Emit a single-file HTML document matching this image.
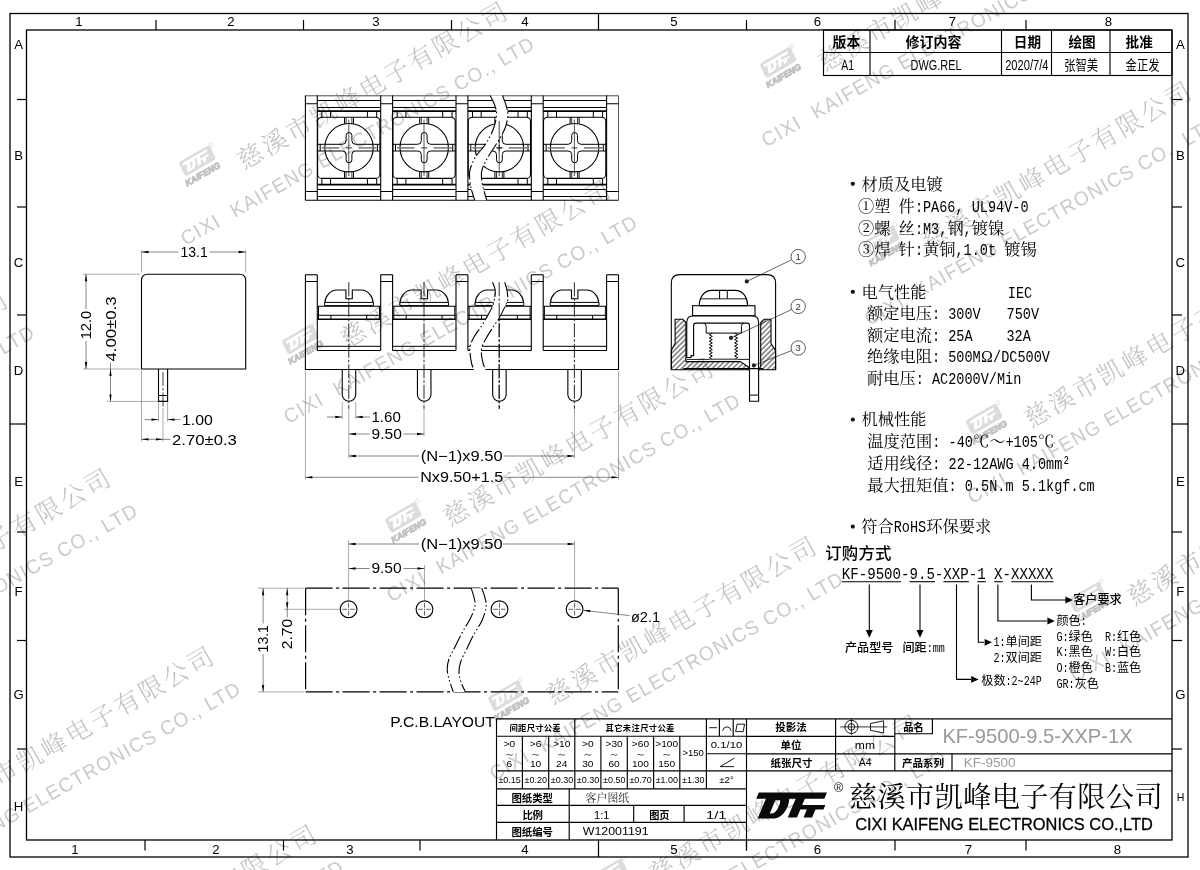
<!DOCTYPE html>
<html lang="zh"><head><meta charset="utf-8"><title>KF-9500-9.5-XXP-1X</title>
<style>
html,body{margin:0;padding:0;background:#fff}
body{width:1200px;height:870px;overflow:hidden;font-family:"Liberation Sans",sans-serif}
svg{display:block;will-change:transform}
svg{font-family:"Liberation Sans",sans-serif}
svg text{white-space:pre}
svg .cs{font-family:"Liberation Sans","Noto Sans CJK SC",sans-serif}
svg .cf{font-family:"Liberation Serif","Noto Serif CJK SC",serif}
</style></head>
<body>
<svg width="1200" height="870" viewBox="0 0 1200 870">
<defs>
<pattern id="hat" width="3.6" height="3.6" patternUnits="userSpaceOnUse" patternTransform="rotate(45)"><line x1="1" y1="-1" x2="1" y2="5" stroke="#000" stroke-width="0.8"/></pattern>
<g id="wmu"><rect x="-17.6" y="-11.6" width="35.6" height="15.8" rx="3" fill="#dcdcdc" transform="skewX(-4)"/><path d="M-13.20,-9.00 L14.08,-9.00 L13.02,-6.48 L-14.26,-6.48 Z M-10.38,-6.48 L-1.18,-6.48 C-0.79,-5.40 -1.87,-1.60 -4.20,0.24 Q-5.20,1.20 -6.89,1.40 L-13.69,1.40 Z M-6.57,-5.92 L-4.73,-5.92 C-4.16,-5.20 -5.99,-0.64 -7.83,-0.64 L-8.79,-0.64 Z M1.54,-6.48 L5.22,-6.48 L2.08,1.00 L-1.60,1.00 Z M4.18,-4.00 L13.42,-4.00 L12.66,-2.20 L3.42,-2.20 Z M6.02,-2.20 L9.46,-2.20 L8.12,1.00 L4.68,1.00 Z" fill="#fff" fill-rule="evenodd"/><text x="-21.20" y="13.60" font-size="8.8" textLength="39.00" lengthAdjust="spacingAndGlyphs" font-weight="bold" fill="#c0c0c0" font-style="italic" stroke="#c0c0c0" stroke-width="0.85">KAIFENG</text><circle cx="20.50" cy="-10.80" r="1.90" fill="none" stroke="#d6d6d6" stroke-width="0.70"/><text x="36.00" y="27.90" font-size="25.2" letter-spacing="2.95" fill="#c2c2c2" font-weight="300" font-family="'Liberation Serif','Noto Serif CJK SC',serif">慈溪市凯峰电子有限公司</text><text transform="translate(-52.4 64.2) rotate(0.55) scale(0.95 1)" font-size="20" letter-spacing="1.45" fill="#cacaca">CIXI <tspan dx="8.3">KAIFENG ELECTRONICS CO., LTD</tspan></text></g>
</defs>
<g id="watermark">
<use href="#wmu" transform="translate(-301.05 452.50) rotate(-30)"/>
<use href="#wmu" transform="translate(-198.05 630.80) rotate(-30)"/>
<use href="#wmu" transform="translate(-95.05 809.10) rotate(-30)"/>
<use href="#wmu" transform="translate(7.95 987.40) rotate(-30)"/>
<use href="#wmu" transform="translate(198.75 164.20) rotate(-30)"/>
<use href="#wmu" transform="translate(301.75 342.50) rotate(-30)"/>
<use href="#wmu" transform="translate(404.75 520.80) rotate(-30)"/>
<use href="#wmu" transform="translate(507.75 699.10) rotate(-30)"/>
<use href="#wmu" transform="translate(610.75 877.40) rotate(-30)"/>
<use href="#wmu" transform="translate(676.60 -112.50) rotate(-30)"/>
<use href="#wmu" transform="translate(779.60 65.80) rotate(-30)"/>
<use href="#wmu" transform="translate(882.60 244.10) rotate(-30)"/>
<use href="#wmu" transform="translate(985.60 422.40) rotate(-30)"/>
<use href="#wmu" transform="translate(1088.60 600.70) rotate(-30)"/>
</g>
<g id="drawing">
<rect x="10.00" y="13.50" width="1178.00" height="843.50" fill="none" stroke="#000" stroke-width="1.30"/>
<rect x="26.50" y="30.00" width="1145.50" height="810.00" fill="none" stroke="#000" stroke-width="1.30"/>
<line x1="156.00" y1="20.00" x2="156.00" y2="30.00" stroke="#000" stroke-width="1.20"/>
<line x1="303.50" y1="20.00" x2="303.50" y2="30.00" stroke="#000" stroke-width="1.20"/>
<line x1="451.50" y1="20.00" x2="451.50" y2="30.00" stroke="#000" stroke-width="1.20"/>
<line x1="746.50" y1="20.00" x2="746.50" y2="30.00" stroke="#000" stroke-width="1.20"/>
<line x1="895.00" y1="20.00" x2="895.00" y2="30.00" stroke="#000" stroke-width="1.20"/>
<line x1="1026.00" y1="20.00" x2="1026.00" y2="30.00" stroke="#000" stroke-width="1.20"/>
<line x1="145.00" y1="840.00" x2="145.00" y2="850.50" stroke="#000" stroke-width="1.20"/>
<line x1="283.50" y1="840.00" x2="283.50" y2="850.50" stroke="#000" stroke-width="1.20"/>
<line x1="420.00" y1="840.00" x2="420.00" y2="850.50" stroke="#000" stroke-width="1.20"/>
<line x1="746.50" y1="840.00" x2="746.50" y2="850.50" stroke="#000" stroke-width="1.20"/>
<line x1="895.00" y1="840.00" x2="895.00" y2="850.50" stroke="#000" stroke-width="1.20"/>
<line x1="1026.00" y1="840.00" x2="1026.00" y2="850.50" stroke="#000" stroke-width="1.20"/>
<line x1="598.50" y1="13.50" x2="598.50" y2="30.00" stroke="#000" stroke-width="1.20"/>
<line x1="598.50" y1="840.00" x2="598.50" y2="857.00" stroke="#000" stroke-width="1.20"/>
<line x1="17.00" y1="99.50" x2="26.50" y2="99.50" stroke="#000" stroke-width="1.20"/>
<line x1="1172.00" y1="99.50" x2="1182.00" y2="99.50" stroke="#000" stroke-width="1.20"/>
<line x1="17.00" y1="207.00" x2="26.50" y2="207.00" stroke="#000" stroke-width="1.20"/>
<line x1="1172.00" y1="207.00" x2="1182.00" y2="207.00" stroke="#000" stroke-width="1.20"/>
<line x1="17.00" y1="315.00" x2="26.50" y2="315.00" stroke="#000" stroke-width="1.20"/>
<line x1="1172.00" y1="315.00" x2="1182.00" y2="315.00" stroke="#000" stroke-width="1.20"/>
<line x1="17.00" y1="532.00" x2="26.50" y2="532.00" stroke="#000" stroke-width="1.20"/>
<line x1="1172.00" y1="532.00" x2="1182.00" y2="532.00" stroke="#000" stroke-width="1.20"/>
<line x1="17.00" y1="640.50" x2="26.50" y2="640.50" stroke="#000" stroke-width="1.20"/>
<line x1="1172.00" y1="640.50" x2="1182.00" y2="640.50" stroke="#000" stroke-width="1.20"/>
<line x1="17.00" y1="749.00" x2="26.50" y2="749.00" stroke="#000" stroke-width="1.20"/>
<line x1="1172.00" y1="749.00" x2="1182.00" y2="749.00" stroke="#000" stroke-width="1.20"/>
<line x1="10.00" y1="424.00" x2="26.50" y2="424.00" stroke="#000" stroke-width="1.20"/>
<line x1="1172.00" y1="424.00" x2="1188.00" y2="424.00" stroke="#000" stroke-width="1.20"/>
<text x="79.00" y="26.30" font-size="13.2" text-anchor="middle" >1</text>
<text x="231.00" y="26.30" font-size="13.2" text-anchor="middle" >2</text>
<text x="376.00" y="26.30" font-size="13.2" text-anchor="middle" >3</text>
<text x="525.00" y="26.30" font-size="13.2" text-anchor="middle" >4</text>
<text x="674.00" y="26.30" font-size="13.2" text-anchor="middle" >5</text>
<text x="817.50" y="26.30" font-size="13.2" text-anchor="middle" >6</text>
<text x="952.50" y="26.30" font-size="13.2" text-anchor="middle" >7</text>
<text x="1108.50" y="26.30" font-size="13.2" text-anchor="middle" >8</text>
<text x="75.00" y="853.80" font-size="13.2" text-anchor="middle" >1</text>
<text x="216.00" y="853.80" font-size="13.2" text-anchor="middle" >2</text>
<text x="350.00" y="853.80" font-size="13.2" text-anchor="middle" >3</text>
<text x="525.00" y="853.80" font-size="13.2" text-anchor="middle" >4</text>
<text x="674.00" y="853.80" font-size="13.2" text-anchor="middle" >5</text>
<text x="817.50" y="853.80" font-size="13.2" text-anchor="middle" >6</text>
<text x="968.50" y="853.80" font-size="13.2" text-anchor="middle" >7</text>
<text x="1117.50" y="853.80" font-size="13.2" text-anchor="middle" >8</text>
<text x="18.60" y="48.70" font-size="13.2" text-anchor="middle" >A</text>
<text x="18.60" y="159.70" font-size="13.2" text-anchor="middle" >B</text>
<text x="18.60" y="266.70" font-size="13.2" text-anchor="middle" >C</text>
<text x="18.60" y="374.70" font-size="13.2" text-anchor="middle" >D</text>
<text x="18.60" y="486.20" font-size="13.2" text-anchor="middle" >E</text>
<text x="18.60" y="595.70" font-size="13.2" text-anchor="middle" >F</text>
<text x="18.60" y="699.20" font-size="13.2" text-anchor="middle" >G</text>
<text x="18.60" y="811.20" font-size="13.2" text-anchor="middle" >H</text>
<text x="1180.30" y="48.70" font-size="13.2" text-anchor="middle" >A</text>
<text x="1180.30" y="159.70" font-size="13.2" text-anchor="middle" >B</text>
<text x="1180.30" y="266.70" font-size="13.2" text-anchor="middle" >C</text>
<text x="1180.30" y="374.70" font-size="13.2" text-anchor="middle" >D</text>
<text x="1180.30" y="486.20" font-size="13.2" text-anchor="middle" >E</text>
<text x="1180.30" y="595.70" font-size="13.2" text-anchor="middle" >F</text>
<text x="1180.30" y="699.20" font-size="13.2" text-anchor="middle" >G</text>
<text x="1180.60" y="800.50" font-size="10.5" text-anchor="middle" >H</text>
<rect x="823.50" y="30.00" width="348.50" height="45.50" fill="none" stroke="#000" stroke-width="1.15"/>
<line x1="823.50" y1="52.50" x2="1172.00" y2="52.50" stroke="#000" stroke-width="1.15"/>
<line x1="870.00" y1="30.00" x2="870.00" y2="75.50" stroke="#000" stroke-width="1.15"/>
<line x1="1001.50" y1="30.00" x2="1001.50" y2="75.50" stroke="#000" stroke-width="1.15"/>
<line x1="1051.50" y1="30.00" x2="1051.50" y2="75.50" stroke="#000" stroke-width="1.15"/>
<line x1="1110.00" y1="30.00" x2="1110.00" y2="75.50" stroke="#000" stroke-width="1.15"/>
<text class="cs" x="832.60" y="47.00" font-size="13.8" font-weight="bold">版本</text>
<text class="cs" x="905.60" y="47.00" font-size="14" font-weight="bold">修订内容</text>
<text class="cs" x="1013.80" y="47.00" font-size="13.6" font-weight="bold">日期</text>
<text class="cs" x="1068.40" y="47.00" font-size="13.6" font-weight="bold">绘图</text>
<text class="cs" x="1125.60" y="47.00" font-size="13.6" font-weight="bold">批准</text>
<text x="841.30" y="69.60" font-size="14.2" textLength="12.80" lengthAdjust="spacingAndGlyphs" >A1</text>
<text x="910.50" y="69.80" font-size="14.4" textLength="51.00" lengthAdjust="spacingAndGlyphs" >DWG.REL</text>
<text x="1005.20" y="69.80" font-size="14.2" textLength="43.20" lengthAdjust="spacingAndGlyphs" >2020/7/4</text>
<text class="cs" x="1064.20" y="69.90" font-size="13.6" textLength="33.87" lengthAdjust="spacingAndGlyphs">张智美</text>
<text class="cs" x="1125.60" y="69.90" font-size="13.6" textLength="33.87" lengthAdjust="spacingAndGlyphs">金正发</text>
<line x1="305.40" y1="95.50" x2="305.40" y2="200.20" stroke="#000" stroke-width="1.10"/>
<line x1="305.40" y1="200.20" x2="618.50" y2="200.20" stroke="#000" stroke-width="1.10"/>
<line x1="305.40" y1="95.80" x2="618.50" y2="95.80" stroke="#333" stroke-width="0.90"/>
<line x1="618.50" y1="95.50" x2="618.50" y2="200.20" stroke="#444" stroke-width="0.90"/>
<line x1="317.30" y1="95.50" x2="317.30" y2="200.20" stroke="#000" stroke-width="1.10"/>
<line x1="305.40" y1="103.75" x2="317.30" y2="103.75" stroke="#000" stroke-width="1.00"/>
<line x1="305.40" y1="191.50" x2="317.30" y2="191.50" stroke="#000" stroke-width="1.00"/>
<line x1="380.70" y1="95.50" x2="380.70" y2="200.20" stroke="#000" stroke-width="1.10"/>
<line x1="392.60" y1="95.50" x2="392.60" y2="200.20" stroke="#000" stroke-width="1.10"/>
<line x1="380.70" y1="103.75" x2="392.60" y2="103.75" stroke="#000" stroke-width="1.00"/>
<line x1="380.70" y1="191.50" x2="392.60" y2="191.50" stroke="#000" stroke-width="1.00"/>
<line x1="456.00" y1="95.50" x2="456.00" y2="200.20" stroke="#000" stroke-width="1.10"/>
<line x1="467.90" y1="95.50" x2="467.90" y2="200.20" stroke="#000" stroke-width="1.10"/>
<line x1="456.00" y1="103.75" x2="467.90" y2="103.75" stroke="#000" stroke-width="1.00"/>
<line x1="456.00" y1="191.50" x2="467.90" y2="191.50" stroke="#000" stroke-width="1.00"/>
<line x1="531.30" y1="95.50" x2="531.30" y2="200.20" stroke="#000" stroke-width="1.10"/>
<line x1="543.20" y1="95.50" x2="543.20" y2="200.20" stroke="#000" stroke-width="1.10"/>
<line x1="531.30" y1="103.75" x2="543.20" y2="103.75" stroke="#000" stroke-width="1.00"/>
<line x1="531.30" y1="191.50" x2="543.20" y2="191.50" stroke="#000" stroke-width="1.00"/>
<line x1="606.60" y1="95.50" x2="606.60" y2="200.20" stroke="#000" stroke-width="1.10"/>
<line x1="606.60" y1="103.75" x2="618.50" y2="103.75" stroke="#000" stroke-width="1.00"/>
<line x1="606.60" y1="191.50" x2="618.50" y2="191.50" stroke="#000" stroke-width="1.00"/>
<line x1="317.30" y1="100.50" x2="380.70" y2="100.50" stroke="#000" stroke-width="1.00"/>
<line x1="317.30" y1="107.50" x2="380.70" y2="107.50" stroke="#000" stroke-width="1.00"/>
<line x1="317.30" y1="111.20" x2="380.70" y2="111.20" stroke="#000" stroke-width="1.80"/>
<line x1="317.30" y1="184.70" x2="380.70" y2="184.70" stroke="#000" stroke-width="1.80"/>
<line x1="317.30" y1="189.50" x2="380.70" y2="189.50" stroke="#000" stroke-width="1.00"/>
<line x1="317.30" y1="196.50" x2="380.70" y2="196.50" stroke="#000" stroke-width="1.00"/>
<rect x="317.60" y="117.25" width="62.30" height="61.1" rx="4.2" fill="none" stroke="#000" stroke-width="1.10"/>
<line x1="321.90" y1="111.30" x2="321.90" y2="117.25" stroke="#000" stroke-width="1.00"/>
<line x1="330.60" y1="111.30" x2="330.60" y2="117.25" stroke="#000" stroke-width="1.00"/>
<line x1="367.40" y1="111.30" x2="367.40" y2="117.25" stroke="#000" stroke-width="1.00"/>
<line x1="376.70" y1="111.30" x2="376.70" y2="117.25" stroke="#000" stroke-width="1.00"/>
<line x1="321.90" y1="178.35" x2="321.90" y2="184.60" stroke="#000" stroke-width="1.00"/>
<line x1="330.60" y1="178.35" x2="330.60" y2="184.60" stroke="#000" stroke-width="1.00"/>
<line x1="367.40" y1="178.35" x2="367.40" y2="184.60" stroke="#000" stroke-width="1.00"/>
<line x1="376.70" y1="178.35" x2="376.70" y2="184.60" stroke="#000" stroke-width="1.00"/>
<circle cx="349.00" cy="147.70" r="24.20" fill="none" stroke="#000" stroke-width="1.10"/>
<path d="M324.90,144.30 H342.50 Q346.10,144.30 346.10,140.70 V135.40 A2.9,2.9 0 0 1 351.90,135.40 V140.70 Q351.90,144.30 355.50,144.30 H373.10" fill="none" stroke="#000" stroke-width="1.00" />
<path d="M324.90,151.00 H342.50 Q346.10,151.00 346.10,154.60 V159.90 A2.9,2.9 0 0 0 351.90,159.90 V154.60 Q351.90,151.00 355.50,151.00 H373.10" fill="none" stroke="#000" stroke-width="1.00" />
<line x1="317.60" y1="144.30" x2="324.80" y2="144.30" stroke="#000" stroke-width="1.00"/>
<line x1="317.60" y1="151.00" x2="324.80" y2="151.00" stroke="#000" stroke-width="1.00"/>
<line x1="320.20" y1="144.30" x2="320.20" y2="151.00" stroke="#000" stroke-width="1.00"/>
<line x1="373.20" y1="144.30" x2="379.90" y2="144.30" stroke="#000" stroke-width="1.00"/>
<line x1="373.20" y1="151.00" x2="379.90" y2="151.00" stroke="#000" stroke-width="1.00"/>
<line x1="377.40" y1="144.30" x2="377.40" y2="151.00" stroke="#000" stroke-width="1.00"/>
<line x1="344.50" y1="117.25" x2="344.50" y2="123.80" stroke="#000" stroke-width="1.00"/>
<line x1="353.50" y1="117.25" x2="353.50" y2="123.80" stroke="#000" stroke-width="1.00"/>
<line x1="346.10" y1="117.25" x2="346.10" y2="123.80" stroke="#000" stroke-width="0.80"/>
<line x1="351.90" y1="117.25" x2="351.90" y2="123.80" stroke="#000" stroke-width="0.80"/>
<line x1="344.50" y1="171.60" x2="344.50" y2="178.35" stroke="#000" stroke-width="1.00"/>
<line x1="353.50" y1="171.60" x2="353.50" y2="178.35" stroke="#000" stroke-width="1.00"/>
<line x1="346.10" y1="171.60" x2="346.10" y2="178.35" stroke="#000" stroke-width="0.80"/>
<line x1="351.90" y1="171.60" x2="351.90" y2="178.35" stroke="#000" stroke-width="0.80"/>
<line x1="348.80" y1="119.50" x2="348.80" y2="176.00" stroke="#111" stroke-width="0.70"/>
<line x1="321.70" y1="147.90" x2="339.30" y2="147.90" stroke="#777" stroke-width="1.50"/>
<line x1="358.40" y1="147.90" x2="376.50" y2="147.90" stroke="#777" stroke-width="1.50"/>
<line x1="346.00" y1="147.90" x2="352.00" y2="147.90" stroke="#111" stroke-width="0.80"/>
<line x1="392.60" y1="100.50" x2="456.00" y2="100.50" stroke="#000" stroke-width="1.00"/>
<line x1="392.60" y1="107.50" x2="456.00" y2="107.50" stroke="#000" stroke-width="1.00"/>
<line x1="392.60" y1="111.20" x2="456.00" y2="111.20" stroke="#000" stroke-width="1.80"/>
<line x1="392.60" y1="184.70" x2="456.00" y2="184.70" stroke="#000" stroke-width="1.80"/>
<line x1="392.60" y1="189.50" x2="456.00" y2="189.50" stroke="#000" stroke-width="1.00"/>
<line x1="392.60" y1="196.50" x2="456.00" y2="196.50" stroke="#000" stroke-width="1.00"/>
<rect x="392.90" y="117.25" width="62.30" height="61.1" rx="4.2" fill="none" stroke="#000" stroke-width="1.10"/>
<line x1="397.20" y1="111.30" x2="397.20" y2="117.25" stroke="#000" stroke-width="1.00"/>
<line x1="405.90" y1="111.30" x2="405.90" y2="117.25" stroke="#000" stroke-width="1.00"/>
<line x1="442.70" y1="111.30" x2="442.70" y2="117.25" stroke="#000" stroke-width="1.00"/>
<line x1="452.00" y1="111.30" x2="452.00" y2="117.25" stroke="#000" stroke-width="1.00"/>
<line x1="397.20" y1="178.35" x2="397.20" y2="184.60" stroke="#000" stroke-width="1.00"/>
<line x1="405.90" y1="178.35" x2="405.90" y2="184.60" stroke="#000" stroke-width="1.00"/>
<line x1="442.70" y1="178.35" x2="442.70" y2="184.60" stroke="#000" stroke-width="1.00"/>
<line x1="452.00" y1="178.35" x2="452.00" y2="184.60" stroke="#000" stroke-width="1.00"/>
<circle cx="424.20" cy="147.70" r="24.20" fill="none" stroke="#000" stroke-width="1.10"/>
<path d="M400.10,144.30 H417.70 Q421.30,144.30 421.30,140.70 V135.40 A2.9,2.9 0 0 1 427.10,135.40 V140.70 Q427.10,144.30 430.70,144.30 H448.30" fill="none" stroke="#000" stroke-width="1.00" />
<path d="M400.10,151.00 H417.70 Q421.30,151.00 421.30,154.60 V159.90 A2.9,2.9 0 0 0 427.10,159.90 V154.60 Q427.10,151.00 430.70,151.00 H448.30" fill="none" stroke="#000" stroke-width="1.00" />
<line x1="392.90" y1="144.30" x2="400.00" y2="144.30" stroke="#000" stroke-width="1.00"/>
<line x1="392.90" y1="151.00" x2="400.00" y2="151.00" stroke="#000" stroke-width="1.00"/>
<line x1="395.50" y1="144.30" x2="395.50" y2="151.00" stroke="#000" stroke-width="1.00"/>
<line x1="448.40" y1="144.30" x2="455.20" y2="144.30" stroke="#000" stroke-width="1.00"/>
<line x1="448.40" y1="151.00" x2="455.20" y2="151.00" stroke="#000" stroke-width="1.00"/>
<line x1="452.70" y1="144.30" x2="452.70" y2="151.00" stroke="#000" stroke-width="1.00"/>
<line x1="419.70" y1="117.25" x2="419.70" y2="123.80" stroke="#000" stroke-width="1.00"/>
<line x1="428.70" y1="117.25" x2="428.70" y2="123.80" stroke="#000" stroke-width="1.00"/>
<line x1="421.30" y1="117.25" x2="421.30" y2="123.80" stroke="#000" stroke-width="0.80"/>
<line x1="427.10" y1="117.25" x2="427.10" y2="123.80" stroke="#000" stroke-width="0.80"/>
<line x1="419.70" y1="171.60" x2="419.70" y2="178.35" stroke="#000" stroke-width="1.00"/>
<line x1="428.70" y1="171.60" x2="428.70" y2="178.35" stroke="#000" stroke-width="1.00"/>
<line x1="421.30" y1="171.60" x2="421.30" y2="178.35" stroke="#000" stroke-width="0.80"/>
<line x1="427.10" y1="171.60" x2="427.10" y2="178.35" stroke="#000" stroke-width="0.80"/>
<line x1="424.00" y1="119.50" x2="424.00" y2="176.00" stroke="#111" stroke-width="0.70"/>
<line x1="397.00" y1="147.90" x2="414.50" y2="147.90" stroke="#777" stroke-width="1.50"/>
<line x1="433.60" y1="147.90" x2="451.80" y2="147.90" stroke="#777" stroke-width="1.50"/>
<line x1="421.20" y1="147.90" x2="427.20" y2="147.90" stroke="#111" stroke-width="0.80"/>
<line x1="467.90" y1="100.50" x2="531.30" y2="100.50" stroke="#000" stroke-width="1.00"/>
<line x1="467.90" y1="107.50" x2="531.30" y2="107.50" stroke="#000" stroke-width="1.00"/>
<line x1="467.90" y1="111.20" x2="531.30" y2="111.20" stroke="#000" stroke-width="1.80"/>
<line x1="467.90" y1="184.70" x2="531.30" y2="184.70" stroke="#000" stroke-width="1.80"/>
<line x1="467.90" y1="189.50" x2="531.30" y2="189.50" stroke="#000" stroke-width="1.00"/>
<line x1="467.90" y1="196.50" x2="531.30" y2="196.50" stroke="#000" stroke-width="1.00"/>
<rect x="468.20" y="117.25" width="62.30" height="61.1" rx="4.2" fill="none" stroke="#000" stroke-width="1.10"/>
<line x1="472.50" y1="111.30" x2="472.50" y2="117.25" stroke="#000" stroke-width="1.00"/>
<line x1="481.20" y1="111.30" x2="481.20" y2="117.25" stroke="#000" stroke-width="1.00"/>
<line x1="518.00" y1="111.30" x2="518.00" y2="117.25" stroke="#000" stroke-width="1.00"/>
<line x1="527.30" y1="111.30" x2="527.30" y2="117.25" stroke="#000" stroke-width="1.00"/>
<line x1="472.50" y1="178.35" x2="472.50" y2="184.60" stroke="#000" stroke-width="1.00"/>
<line x1="481.20" y1="178.35" x2="481.20" y2="184.60" stroke="#000" stroke-width="1.00"/>
<line x1="518.00" y1="178.35" x2="518.00" y2="184.60" stroke="#000" stroke-width="1.00"/>
<line x1="527.30" y1="178.35" x2="527.30" y2="184.60" stroke="#000" stroke-width="1.00"/>
<circle cx="499.40" cy="147.70" r="24.20" fill="none" stroke="#000" stroke-width="1.10"/>
<path d="M475.30,144.30 H492.90 Q496.50,144.30 496.50,140.70 V135.40 A2.9,2.9 0 0 1 502.30,135.40 V140.70 Q502.30,144.30 505.90,144.30 H523.50" fill="none" stroke="#000" stroke-width="1.00" />
<path d="M475.30,151.00 H492.90 Q496.50,151.00 496.50,154.60 V159.90 A2.9,2.9 0 0 0 502.30,159.90 V154.60 Q502.30,151.00 505.90,151.00 H523.50" fill="none" stroke="#000" stroke-width="1.00" />
<line x1="468.20" y1="144.30" x2="475.20" y2="144.30" stroke="#000" stroke-width="1.00"/>
<line x1="468.20" y1="151.00" x2="475.20" y2="151.00" stroke="#000" stroke-width="1.00"/>
<line x1="470.80" y1="144.30" x2="470.80" y2="151.00" stroke="#000" stroke-width="1.00"/>
<line x1="523.60" y1="144.30" x2="530.50" y2="144.30" stroke="#000" stroke-width="1.00"/>
<line x1="523.60" y1="151.00" x2="530.50" y2="151.00" stroke="#000" stroke-width="1.00"/>
<line x1="528.00" y1="144.30" x2="528.00" y2="151.00" stroke="#000" stroke-width="1.00"/>
<line x1="494.90" y1="117.25" x2="494.90" y2="123.80" stroke="#000" stroke-width="1.00"/>
<line x1="503.90" y1="117.25" x2="503.90" y2="123.80" stroke="#000" stroke-width="1.00"/>
<line x1="496.50" y1="117.25" x2="496.50" y2="123.80" stroke="#000" stroke-width="0.80"/>
<line x1="502.30" y1="117.25" x2="502.30" y2="123.80" stroke="#000" stroke-width="0.80"/>
<line x1="494.90" y1="171.60" x2="494.90" y2="178.35" stroke="#000" stroke-width="1.00"/>
<line x1="503.90" y1="171.60" x2="503.90" y2="178.35" stroke="#000" stroke-width="1.00"/>
<line x1="496.50" y1="171.60" x2="496.50" y2="178.35" stroke="#000" stroke-width="0.80"/>
<line x1="502.30" y1="171.60" x2="502.30" y2="178.35" stroke="#000" stroke-width="0.80"/>
<line x1="499.20" y1="119.50" x2="499.20" y2="176.00" stroke="#111" stroke-width="0.70"/>
<line x1="472.30" y1="147.90" x2="489.70" y2="147.90" stroke="#777" stroke-width="1.50"/>
<line x1="508.80" y1="147.90" x2="527.10" y2="147.90" stroke="#777" stroke-width="1.50"/>
<line x1="496.40" y1="147.90" x2="502.40" y2="147.90" stroke="#111" stroke-width="0.80"/>
<line x1="543.20" y1="100.50" x2="606.60" y2="100.50" stroke="#000" stroke-width="1.00"/>
<line x1="543.20" y1="107.50" x2="606.60" y2="107.50" stroke="#000" stroke-width="1.00"/>
<line x1="543.20" y1="111.20" x2="606.60" y2="111.20" stroke="#000" stroke-width="1.80"/>
<line x1="543.20" y1="184.70" x2="606.60" y2="184.70" stroke="#000" stroke-width="1.80"/>
<line x1="543.20" y1="189.50" x2="606.60" y2="189.50" stroke="#000" stroke-width="1.00"/>
<line x1="543.20" y1="196.50" x2="606.60" y2="196.50" stroke="#000" stroke-width="1.00"/>
<rect x="543.50" y="117.25" width="62.30" height="61.1" rx="4.2" fill="none" stroke="#000" stroke-width="1.10"/>
<line x1="547.80" y1="111.30" x2="547.80" y2="117.25" stroke="#000" stroke-width="1.00"/>
<line x1="556.50" y1="111.30" x2="556.50" y2="117.25" stroke="#000" stroke-width="1.00"/>
<line x1="593.30" y1="111.30" x2="593.30" y2="117.25" stroke="#000" stroke-width="1.00"/>
<line x1="602.60" y1="111.30" x2="602.60" y2="117.25" stroke="#000" stroke-width="1.00"/>
<line x1="547.80" y1="178.35" x2="547.80" y2="184.60" stroke="#000" stroke-width="1.00"/>
<line x1="556.50" y1="178.35" x2="556.50" y2="184.60" stroke="#000" stroke-width="1.00"/>
<line x1="593.30" y1="178.35" x2="593.30" y2="184.60" stroke="#000" stroke-width="1.00"/>
<line x1="602.60" y1="178.35" x2="602.60" y2="184.60" stroke="#000" stroke-width="1.00"/>
<circle cx="574.60" cy="147.70" r="24.20" fill="none" stroke="#000" stroke-width="1.10"/>
<path d="M550.50,144.30 H568.10 Q571.70,144.30 571.70,140.70 V135.40 A2.9,2.9 0 0 1 577.50,135.40 V140.70 Q577.50,144.30 581.10,144.30 H598.70" fill="none" stroke="#000" stroke-width="1.00" />
<path d="M550.50,151.00 H568.10 Q571.70,151.00 571.70,154.60 V159.90 A2.9,2.9 0 0 0 577.50,159.90 V154.60 Q577.50,151.00 581.10,151.00 H598.70" fill="none" stroke="#000" stroke-width="1.00" />
<line x1="543.50" y1="144.30" x2="550.40" y2="144.30" stroke="#000" stroke-width="1.00"/>
<line x1="543.50" y1="151.00" x2="550.40" y2="151.00" stroke="#000" stroke-width="1.00"/>
<line x1="546.10" y1="144.30" x2="546.10" y2="151.00" stroke="#000" stroke-width="1.00"/>
<line x1="598.80" y1="144.30" x2="605.80" y2="144.30" stroke="#000" stroke-width="1.00"/>
<line x1="598.80" y1="151.00" x2="605.80" y2="151.00" stroke="#000" stroke-width="1.00"/>
<line x1="603.30" y1="144.30" x2="603.30" y2="151.00" stroke="#000" stroke-width="1.00"/>
<line x1="570.10" y1="117.25" x2="570.10" y2="123.80" stroke="#000" stroke-width="1.00"/>
<line x1="579.10" y1="117.25" x2="579.10" y2="123.80" stroke="#000" stroke-width="1.00"/>
<line x1="571.70" y1="117.25" x2="571.70" y2="123.80" stroke="#000" stroke-width="0.80"/>
<line x1="577.50" y1="117.25" x2="577.50" y2="123.80" stroke="#000" stroke-width="0.80"/>
<line x1="570.10" y1="171.60" x2="570.10" y2="178.35" stroke="#000" stroke-width="1.00"/>
<line x1="579.10" y1="171.60" x2="579.10" y2="178.35" stroke="#000" stroke-width="1.00"/>
<line x1="571.70" y1="171.60" x2="571.70" y2="178.35" stroke="#000" stroke-width="0.80"/>
<line x1="577.50" y1="171.60" x2="577.50" y2="178.35" stroke="#000" stroke-width="0.80"/>
<line x1="574.40" y1="119.50" x2="574.40" y2="176.00" stroke="#111" stroke-width="0.70"/>
<line x1="547.60" y1="147.90" x2="564.90" y2="147.90" stroke="#777" stroke-width="1.50"/>
<line x1="584.00" y1="147.90" x2="602.40" y2="147.90" stroke="#777" stroke-width="1.50"/>
<line x1="571.60" y1="147.90" x2="577.60" y2="147.90" stroke="#111" stroke-width="0.80"/>
<path d="M490.20,95.50 C491.00,97.25 493.95,102.75 495.00,106.00 C496.05,109.25 496.75,111.25 496.50,115.00 C496.25,118.75 495.25,123.75 493.50,128.50 C491.75,133.25 489.00,138.75 486.00,143.50 C483.00,148.25 478.12,152.75 475.50,157.00 C472.88,161.25 471.25,165.83 470.25,169.00 C469.25,172.17 469.38,172.83 469.50,176.00 C469.62,179.17 470.12,183.97 471.00,188.00 C471.88,192.03 474.12,198.17 474.75,200.20 L486.75,200.20 C486.25,198.50 484.62,193.70 483.75,190.00 C482.88,186.30 481.75,181.50 481.50,178.00 C481.25,174.50 481.00,172.75 482.25,169.00 C483.50,165.25 486.12,160.50 489.00,155.50 C491.88,150.50 496.75,143.75 499.50,139.00 C502.25,134.25 504.12,131.00 505.50,127.00 C506.88,123.00 507.62,118.50 507.75,115.00 C507.88,111.50 507.12,109.25 506.25,106.00 C505.38,102.75 503.12,97.25 502.50,95.50 Z" fill="#fff" stroke="none"/>
<path d="M490.20,95.50 C491.00,97.25 493.95,102.75 495.00,106.00 C496.05,109.25 496.75,111.25 496.50,115.00 C496.25,118.75 495.25,123.75 493.50,128.50 C491.75,133.25 489.00,138.75 486.00,143.50 C483.00,148.25 478.12,152.75 475.50,157.00 C472.88,161.25 471.25,165.83 470.25,169.00 C469.25,172.17 469.38,172.83 469.50,176.00 C469.62,179.17 470.12,183.97 471.00,188.00 C471.88,192.03 474.12,198.17 474.75,200.20" fill="none" stroke="#000" stroke-width="1.10" stroke-dasharray="15 2.6 1.5 2.6 1.5 2.6" />
<path d="M502.50,95.50 C503.12,97.25 505.38,102.75 506.25,106.00 C507.12,109.25 507.88,111.50 507.75,115.00 C507.62,118.50 506.88,123.00 505.50,127.00 C504.12,131.00 502.25,134.25 499.50,139.00 C496.75,143.75 491.88,150.50 489.00,155.50 C486.12,160.50 483.50,165.25 482.25,169.00 C481.00,172.75 481.25,174.50 481.50,178.00 C481.75,181.50 482.88,186.30 483.75,190.00 C484.62,193.70 486.25,198.50 486.75,200.20" fill="none" stroke="#000" stroke-width="1.10" stroke-dasharray="15 2.6 1.5 2.6 1.5 2.6" />
<line x1="499.20" y1="121.00" x2="499.20" y2="143.00" stroke="#111" stroke-width="0.80"/>
<line x1="496.40" y1="147.90" x2="502.40" y2="147.90" stroke="#111" stroke-width="0.80"/>
<line x1="499.20" y1="144.70" x2="499.20" y2="151.10" stroke="#111" stroke-width="0.80"/>
<path d="M305.40,274.75 V369.50 H618.50 V274.75" fill="none" stroke="#000" stroke-width="1.10" />
<line x1="305.40" y1="274.75" x2="317.30" y2="274.75" stroke="#000" stroke-width="1.10"/>
<line x1="305.40" y1="281.50" x2="317.30" y2="281.50" stroke="#000" stroke-width="1.00"/>
<line x1="317.30" y1="274.75" x2="317.30" y2="350.50" stroke="#000" stroke-width="1.10"/>
<line x1="380.70" y1="274.75" x2="392.60" y2="274.75" stroke="#000" stroke-width="1.10"/>
<line x1="380.70" y1="281.50" x2="392.60" y2="281.50" stroke="#000" stroke-width="1.00"/>
<line x1="380.70" y1="274.75" x2="380.70" y2="350.50" stroke="#000" stroke-width="1.10"/>
<line x1="392.60" y1="274.75" x2="392.60" y2="350.50" stroke="#000" stroke-width="1.10"/>
<line x1="456.00" y1="274.75" x2="467.90" y2="274.75" stroke="#000" stroke-width="1.10"/>
<line x1="456.00" y1="281.50" x2="467.90" y2="281.50" stroke="#000" stroke-width="1.00"/>
<line x1="456.00" y1="274.75" x2="456.00" y2="350.50" stroke="#000" stroke-width="1.10"/>
<line x1="467.90" y1="274.75" x2="467.90" y2="350.50" stroke="#000" stroke-width="1.10"/>
<line x1="531.30" y1="274.75" x2="543.20" y2="274.75" stroke="#000" stroke-width="1.10"/>
<line x1="531.30" y1="281.50" x2="543.20" y2="281.50" stroke="#000" stroke-width="1.00"/>
<line x1="531.30" y1="274.75" x2="531.30" y2="350.50" stroke="#000" stroke-width="1.10"/>
<line x1="543.20" y1="274.75" x2="543.20" y2="350.50" stroke="#000" stroke-width="1.10"/>
<line x1="606.60" y1="274.75" x2="618.50" y2="274.75" stroke="#000" stroke-width="1.10"/>
<line x1="606.60" y1="281.50" x2="618.50" y2="281.50" stroke="#000" stroke-width="1.00"/>
<line x1="606.60" y1="274.75" x2="606.60" y2="350.50" stroke="#000" stroke-width="1.10"/>
<line x1="317.30" y1="306.25" x2="380.70" y2="306.25" stroke="#000" stroke-width="1.10"/>
<line x1="317.30" y1="315.30" x2="380.70" y2="315.30" stroke="#000" stroke-width="1.00"/>
<line x1="317.30" y1="319.30" x2="380.70" y2="319.30" stroke="#000" stroke-width="1.50"/>
<line x1="317.30" y1="346.30" x2="380.70" y2="346.30" stroke="#000" stroke-width="1.00"/>
<line x1="317.30" y1="350.50" x2="380.70" y2="350.50" stroke="#000" stroke-width="1.10"/>
<line x1="318.50" y1="306.25" x2="318.50" y2="319.30" stroke="#000" stroke-width="1.00"/>
<line x1="379.50" y1="306.25" x2="379.50" y2="319.30" stroke="#000" stroke-width="1.00"/>
<line x1="330.90" y1="315.30" x2="330.90" y2="319.30" stroke="#000" stroke-width="1.00"/>
<line x1="366.70" y1="315.30" x2="366.70" y2="319.30" stroke="#000" stroke-width="1.00"/>
<path d="M324.60,302.4 H373.40 V305.6 H324.60 Z" fill="none" stroke="#000" stroke-width="1.00" />
<path d="M324.90,302.4 C325.20,296 330.60,290 336.60,290 H345.90 V298.8 H352.30 V290 H361.40 C367.40,290 372.80,296 373.10,302.4" fill="none" stroke="#000" stroke-width="1.10" />
<path d="M342.25,369.50 V394.5 A6.75,6.75 0 0 0 355.75,394.5 V369.50" fill="none" stroke="#000" stroke-width="1.10" />
<line x1="348.80" y1="282.30" x2="348.80" y2="408.80" stroke="#111" stroke-width="0.90" stroke-dasharray="14 2 2.5 2"/>
<line x1="392.60" y1="306.25" x2="456.00" y2="306.25" stroke="#000" stroke-width="1.10"/>
<line x1="392.60" y1="315.30" x2="456.00" y2="315.30" stroke="#000" stroke-width="1.00"/>
<line x1="392.60" y1="319.30" x2="456.00" y2="319.30" stroke="#000" stroke-width="1.50"/>
<line x1="392.60" y1="346.30" x2="456.00" y2="346.30" stroke="#000" stroke-width="1.00"/>
<line x1="392.60" y1="350.50" x2="456.00" y2="350.50" stroke="#000" stroke-width="1.10"/>
<line x1="393.80" y1="306.25" x2="393.80" y2="319.30" stroke="#000" stroke-width="1.00"/>
<line x1="454.80" y1="306.25" x2="454.80" y2="319.30" stroke="#000" stroke-width="1.00"/>
<line x1="406.20" y1="315.30" x2="406.20" y2="319.30" stroke="#000" stroke-width="1.00"/>
<line x1="442.00" y1="315.30" x2="442.00" y2="319.30" stroke="#000" stroke-width="1.00"/>
<path d="M399.80,302.4 H448.60 V305.6 H399.80 Z" fill="none" stroke="#000" stroke-width="1.00" />
<path d="M400.10,302.4 C400.40,296 405.80,290 411.80,290 H421.10 V298.8 H427.50 V290 H436.60 C442.60,290 448.00,296 448.30,302.4" fill="none" stroke="#000" stroke-width="1.10" />
<path d="M417.45,369.50 V394.5 A6.75,6.75 0 0 0 430.95,394.5 V369.50" fill="none" stroke="#000" stroke-width="1.10" />
<line x1="424.00" y1="282.30" x2="424.00" y2="408.80" stroke="#111" stroke-width="0.90" stroke-dasharray="14 2 2.5 2"/>
<line x1="467.90" y1="306.25" x2="531.30" y2="306.25" stroke="#000" stroke-width="1.10"/>
<line x1="467.90" y1="315.30" x2="531.30" y2="315.30" stroke="#000" stroke-width="1.00"/>
<line x1="467.90" y1="319.30" x2="531.30" y2="319.30" stroke="#000" stroke-width="1.50"/>
<line x1="467.90" y1="346.30" x2="531.30" y2="346.30" stroke="#000" stroke-width="1.00"/>
<line x1="467.90" y1="350.50" x2="531.30" y2="350.50" stroke="#000" stroke-width="1.10"/>
<line x1="469.10" y1="306.25" x2="469.10" y2="319.30" stroke="#000" stroke-width="1.00"/>
<line x1="530.10" y1="306.25" x2="530.10" y2="319.30" stroke="#000" stroke-width="1.00"/>
<line x1="481.50" y1="315.30" x2="481.50" y2="319.30" stroke="#000" stroke-width="1.00"/>
<line x1="517.30" y1="315.30" x2="517.30" y2="319.30" stroke="#000" stroke-width="1.00"/>
<path d="M475.00,302.4 H523.80 V305.6 H475.00 Z" fill="none" stroke="#000" stroke-width="1.00" />
<path d="M475.30,302.4 C475.60,296 481.00,290 487.00,290 H496.30 V298.8 H502.70 V290 H511.80 C517.80,290 523.20,296 523.50,302.4" fill="none" stroke="#000" stroke-width="1.10" />
<path d="M492.65,369.50 V394.5 A6.75,6.75 0 0 0 506.15,394.5 V369.50" fill="none" stroke="#000" stroke-width="1.10" />
<line x1="499.20" y1="282.30" x2="499.20" y2="408.80" stroke="#111" stroke-width="0.90" stroke-dasharray="14 2 2.5 2"/>
<line x1="543.20" y1="306.25" x2="606.60" y2="306.25" stroke="#000" stroke-width="1.10"/>
<line x1="543.20" y1="315.30" x2="606.60" y2="315.30" stroke="#000" stroke-width="1.00"/>
<line x1="543.20" y1="319.30" x2="606.60" y2="319.30" stroke="#000" stroke-width="1.50"/>
<line x1="543.20" y1="346.30" x2="606.60" y2="346.30" stroke="#000" stroke-width="1.00"/>
<line x1="543.20" y1="350.50" x2="606.60" y2="350.50" stroke="#000" stroke-width="1.10"/>
<line x1="544.40" y1="306.25" x2="544.40" y2="319.30" stroke="#000" stroke-width="1.00"/>
<line x1="605.40" y1="306.25" x2="605.40" y2="319.30" stroke="#000" stroke-width="1.00"/>
<line x1="556.80" y1="315.30" x2="556.80" y2="319.30" stroke="#000" stroke-width="1.00"/>
<line x1="592.60" y1="315.30" x2="592.60" y2="319.30" stroke="#000" stroke-width="1.00"/>
<path d="M550.20,302.4 H599.00 V305.6 H550.20 Z" fill="none" stroke="#000" stroke-width="1.00" />
<path d="M550.50,302.4 C550.80,296 556.20,290 562.20,290 H571.50 V298.8 H577.90 V290 H587.00 C593.00,290 598.40,296 598.70,302.4" fill="none" stroke="#000" stroke-width="1.10" />
<path d="M567.85,369.50 V394.5 A6.75,6.75 0 0 0 581.35,394.5 V369.50" fill="none" stroke="#000" stroke-width="1.10" />
<line x1="574.40" y1="282.30" x2="574.40" y2="408.80" stroke="#111" stroke-width="0.90" stroke-dasharray="14 2 2.5 2"/>
<path d="M492.50,282.25 C492.92,283.38 494.58,286.62 495.00,289.00 C495.42,291.38 495.38,293.75 495.00,296.50 C494.62,299.25 493.88,302.50 492.75,305.50 C491.62,308.50 490.00,311.25 488.25,314.50 C486.50,317.75 484.62,321.25 482.25,325.00 C479.88,328.75 476.00,333.50 474.00,337.00 C472.00,340.50 470.88,343.00 470.25,346.00 C469.62,349.00 470.00,352.00 470.25,355.00 C470.50,358.00 471.12,361.50 471.75,364.00 C472.38,366.50 473.62,369.00 474.00,370.00 L486.00,370.00 C485.55,369.00 484.05,366.50 483.30,364.00 C482.55,361.50 481.75,357.75 481.50,355.00 C481.25,352.25 481.05,350.25 481.80,347.50 C482.55,344.75 484.05,342.00 486.00,338.50 C487.95,335.00 491.25,330.00 493.50,326.50 C495.75,323.00 497.50,321.00 499.50,317.50 C501.50,314.00 504.12,308.50 505.50,305.50 C506.88,302.50 507.50,302.00 507.75,299.50 C508.00,297.00 507.50,293.38 507.00,290.50 C506.50,287.62 505.12,283.62 504.75,282.25 Z" fill="#fff" stroke="none"/>
<path d="M492.50,282.25 C492.92,283.38 494.58,286.62 495.00,289.00 C495.42,291.38 495.38,293.75 495.00,296.50 C494.62,299.25 493.88,302.50 492.75,305.50 C491.62,308.50 490.00,311.25 488.25,314.50 C486.50,317.75 484.62,321.25 482.25,325.00 C479.88,328.75 476.00,333.50 474.00,337.00 C472.00,340.50 470.88,343.00 470.25,346.00 C469.62,349.00 470.00,352.00 470.25,355.00 C470.50,358.00 471.12,361.50 471.75,364.00 C472.38,366.50 473.62,369.00 474.00,370.00" fill="none" stroke="#000" stroke-width="1.10" stroke-dasharray="15 2.6 1.5 2.6 1.5 2.6" />
<path d="M504.75,282.25 C505.12,283.62 506.50,287.62 507.00,290.50 C507.50,293.38 508.00,297.00 507.75,299.50 C507.50,302.00 506.88,302.50 505.50,305.50 C504.12,308.50 501.50,314.00 499.50,317.50 C497.50,321.00 495.75,323.00 493.50,326.50 C491.25,330.00 487.95,335.00 486.00,338.50 C484.05,342.00 482.55,344.75 481.80,347.50 C481.05,350.25 481.25,352.25 481.50,355.00 C481.75,357.75 482.55,361.50 483.30,364.00 C484.05,366.50 485.55,369.00 486.00,370.00" fill="none" stroke="#000" stroke-width="1.10" stroke-dasharray="15 2.6 1.5 2.6 1.5 2.6" />
<line x1="499.20" y1="282.30" x2="499.20" y2="408.80" stroke="#111" stroke-width="0.90" stroke-dasharray="14 2 2.5 2"/>
<line x1="342.25" y1="402.00" x2="342.25" y2="419.00" stroke="#555" stroke-width="0.50"/>
<line x1="355.75" y1="402.00" x2="355.75" y2="419.00" stroke="#555" stroke-width="0.50"/>
<line x1="348.80" y1="409.00" x2="348.80" y2="458.50" stroke="#555" stroke-width="0.50"/>
<line x1="424.00" y1="409.00" x2="424.00" y2="436.50" stroke="#555" stroke-width="0.50"/>
<line x1="574.40" y1="409.00" x2="574.40" y2="458.50" stroke="#555" stroke-width="0.50"/>
<line x1="305.40" y1="371.00" x2="305.40" y2="479.50" stroke="#555" stroke-width="0.50"/>
<line x1="618.50" y1="371.00" x2="618.50" y2="479.50" stroke="#555" stroke-width="0.50"/>
<line x1="327.00" y1="417.00" x2="342.25" y2="417.00" stroke="#333" stroke-width="0.60"/>
<path d="M342.25,417.00 L335.25,418.15 L335.25,415.85 Z" fill="#000"/>
<line x1="355.75" y1="417.00" x2="370.00" y2="417.00" stroke="#333" stroke-width="0.60"/>
<path d="M355.75,417.00 L362.75,415.85 L362.75,418.15 Z" fill="#000"/>
<text x="371.50" y="421.90" font-size="14.4" textLength="29.30" lengthAdjust="spacingAndGlyphs" >1.60</text>
<line x1="349.00" y1="434.00" x2="369.50" y2="434.00" stroke="#333" stroke-width="0.60"/>
<line x1="403.50" y1="434.00" x2="424.20" y2="434.00" stroke="#333" stroke-width="0.60"/>
<path d="M348.80,434.00 L355.80,432.85 L355.80,435.15 Z" fill="#000"/>
<path d="M424.00,434.00 L417.00,435.15 L417.00,432.85 Z" fill="#000"/>
<text x="371.50" y="438.90" font-size="14.4" textLength="30.30" lengthAdjust="spacingAndGlyphs" >9.50</text>
<line x1="349.00" y1="456.00" x2="419.00" y2="456.00" stroke="#333" stroke-width="0.60"/>
<line x1="504.00" y1="456.00" x2="574.60" y2="456.00" stroke="#333" stroke-width="0.60"/>
<path d="M348.80,456.00 L355.80,454.85 L355.80,457.15 Z" fill="#000"/>
<path d="M574.40,456.00 L567.40,457.15 L567.40,454.85 Z" fill="#000"/>
<text x="420.70" y="461.20" font-size="14.4" textLength="82.00" lengthAdjust="spacingAndGlyphs" >(N−1)x9.50</text>
<line x1="305.40" y1="477.30" x2="418.50" y2="477.30" stroke="#333" stroke-width="0.60"/>
<line x1="504.50" y1="477.30" x2="618.50" y2="477.30" stroke="#333" stroke-width="0.60"/>
<path d="M305.40,477.30 L312.40,476.15 L312.40,478.45 Z" fill="#000"/>
<path d="M618.50,477.30 L611.50,478.45 L611.50,476.15 Z" fill="#000"/>
<text x="420.20" y="482.40" font-size="14.4" textLength="83.00" lengthAdjust="spacingAndGlyphs" >Nx9.50+1.5</text>
<path d="M141.50,369.00 V280.50 Q141.50,274.20 147.80,274.20 H239.40 Q245.70,274.20 245.70,280.50 V369.00 Z" fill="none" stroke="#000" stroke-width="1.10" />
<path d="M158.5,369 V401.4 H167.6 V369" fill="none" stroke="#000" stroke-width="1.10" />
<line x1="158.50" y1="395.50" x2="167.60" y2="395.50" stroke="#000" stroke-width="1.00"/>
<line x1="163.00" y1="372.00" x2="163.00" y2="409.50" stroke="#111" stroke-width="0.80" stroke-dasharray="14 2 2.5 2"/>
<line x1="141.50" y1="250.00" x2="141.50" y2="272.50" stroke="#555" stroke-width="0.50"/>
<line x1="245.70" y1="250.00" x2="245.70" y2="272.50" stroke="#555" stroke-width="0.50"/>
<line x1="141.50" y1="252.00" x2="178.50" y2="252.00" stroke="#333" stroke-width="0.60"/>
<line x1="209.50" y1="252.00" x2="245.70" y2="252.00" stroke="#333" stroke-width="0.60"/>
<path d="M141.50,252.00 L148.50,250.85 L148.50,253.15 Z" fill="#000"/>
<path d="M245.70,252.00 L238.70,253.15 L238.70,250.85 Z" fill="#000"/>
<text x="180.50" y="256.70" font-size="14.4" textLength="27.30" lengthAdjust="spacingAndGlyphs" >13.1</text>
<line x1="83.00" y1="274.20" x2="140.00" y2="274.20" stroke="#555" stroke-width="0.50"/>
<line x1="83.00" y1="369.00" x2="140.00" y2="369.00" stroke="#555" stroke-width="0.50"/>
<line x1="86.00" y1="274.20" x2="86.00" y2="309.00" stroke="#333" stroke-width="0.60"/>
<line x1="86.00" y1="341.00" x2="86.00" y2="369.00" stroke="#333" stroke-width="0.60"/>
<path d="M86.00,274.20 L87.15,281.20 L84.85,281.20 Z" fill="#000"/>
<path d="M86.00,369.00 L84.85,362.00 L87.15,362.00 Z" fill="#000"/>
<text x="90.60" y="339.30" font-size="14.4" textLength="28.50" lengthAdjust="spacingAndGlyphs" transform="rotate(-90 90.60 339.30)" >12.0</text>
<line x1="107.00" y1="401.40" x2="158.00" y2="401.40" stroke="#555" stroke-width="0.50"/>
<line x1="110.50" y1="362.50" x2="110.50" y2="401.40" stroke="#333" stroke-width="0.60"/>
<path d="M110.50,369.00 L111.65,376.00 L109.35,376.00 Z" fill="#000"/>
<path d="M110.50,401.40 L109.35,394.40 L111.65,394.40 Z" fill="#000"/>
<text x="115.80" y="361.60" font-size="14.4" textLength="65.20" lengthAdjust="spacingAndGlyphs" transform="rotate(-90 115.80 361.60)" >4.00±0.3</text>
<line x1="158.50" y1="402.50" x2="158.50" y2="421.50" stroke="#555" stroke-width="0.50"/>
<line x1="167.60" y1="402.50" x2="167.60" y2="421.50" stroke="#555" stroke-width="0.50"/>
<line x1="144.60" y1="419.60" x2="158.50" y2="419.60" stroke="#333" stroke-width="0.60"/>
<path d="M158.50,419.60 L151.50,420.75 L151.50,418.45 Z" fill="#000"/>
<line x1="167.60" y1="419.60" x2="180.50" y2="419.60" stroke="#333" stroke-width="0.60"/>
<path d="M167.60,419.60 L174.60,418.45 L174.60,420.75 Z" fill="#000"/>
<text x="182.00" y="424.70" font-size="14.4" textLength="30.90" lengthAdjust="spacingAndGlyphs" >1.00</text>
<line x1="141.50" y1="370.50" x2="141.50" y2="441.50" stroke="#555" stroke-width="0.50"/>
<line x1="163.00" y1="410.00" x2="163.00" y2="441.50" stroke="#555" stroke-width="0.50"/>
<line x1="141.50" y1="439.30" x2="170.50" y2="439.30" stroke="#333" stroke-width="0.60"/>
<path d="M141.50,439.30 L148.50,438.15 L148.50,440.45 Z" fill="#000"/>
<path d="M163.00,439.30 L156.00,440.45 L156.00,438.15 Z" fill="#000"/>
<text x="172.00" y="445.00" font-size="14.4" textLength="64.90" lengthAdjust="spacingAndGlyphs" >2.70±0.3</text>
<line x1="305.60" y1="588.20" x2="618.30" y2="588.20" stroke="#000" stroke-width="1.20" stroke-dasharray="27 3.5 3 3.5"/>
<line x1="305.60" y1="691.90" x2="618.30" y2="691.90" stroke="#000" stroke-width="1.20" stroke-dasharray="27 3.5 3 3.5"/>
<line x1="305.60" y1="588.20" x2="305.60" y2="691.90" stroke="#000" stroke-width="1.20" stroke-dasharray="27 3.5 3 3.5"/>
<line x1="618.30" y1="588.20" x2="618.30" y2="691.90" stroke="#000" stroke-width="1.20" stroke-dasharray="27 3.5 3 3.5"/>
<circle cx="348.60" cy="609.30" r="8.40" fill="none" stroke="#000" stroke-width="1.10"/>
<line x1="342.40" y1="609.30" x2="347.00" y2="609.30" stroke="#222" stroke-width="0.70"/>
<line x1="350.20" y1="609.30" x2="354.80" y2="609.30" stroke="#222" stroke-width="0.70"/>
<line x1="348.60" y1="603.10" x2="348.60" y2="607.70" stroke="#222" stroke-width="0.70"/>
<line x1="348.60" y1="610.90" x2="348.60" y2="615.50" stroke="#222" stroke-width="0.70"/>
<rect x="348.10" y="608.80" width="1" height="1" fill="#222"/>
<circle cx="424.50" cy="609.30" r="8.40" fill="none" stroke="#000" stroke-width="1.10"/>
<line x1="418.30" y1="609.30" x2="422.90" y2="609.30" stroke="#222" stroke-width="0.70"/>
<line x1="426.10" y1="609.30" x2="430.70" y2="609.30" stroke="#222" stroke-width="0.70"/>
<line x1="424.50" y1="603.10" x2="424.50" y2="607.70" stroke="#222" stroke-width="0.70"/>
<line x1="424.50" y1="610.90" x2="424.50" y2="615.50" stroke="#222" stroke-width="0.70"/>
<rect x="424.00" y="608.80" width="1" height="1" fill="#222"/>
<circle cx="499.50" cy="609.30" r="8.40" fill="none" stroke="#000" stroke-width="1.10"/>
<line x1="493.30" y1="609.30" x2="497.90" y2="609.30" stroke="#222" stroke-width="0.70"/>
<line x1="501.10" y1="609.30" x2="505.70" y2="609.30" stroke="#222" stroke-width="0.70"/>
<line x1="499.50" y1="603.10" x2="499.50" y2="607.70" stroke="#222" stroke-width="0.70"/>
<line x1="499.50" y1="610.90" x2="499.50" y2="615.50" stroke="#222" stroke-width="0.70"/>
<rect x="499.00" y="608.80" width="1" height="1" fill="#222"/>
<circle cx="574.60" cy="609.30" r="8.40" fill="none" stroke="#000" stroke-width="1.10"/>
<line x1="568.40" y1="609.30" x2="573.00" y2="609.30" stroke="#222" stroke-width="0.70"/>
<line x1="576.20" y1="609.30" x2="580.80" y2="609.30" stroke="#222" stroke-width="0.70"/>
<line x1="574.60" y1="603.10" x2="574.60" y2="607.70" stroke="#222" stroke-width="0.70"/>
<line x1="574.60" y1="610.90" x2="574.60" y2="615.50" stroke="#222" stroke-width="0.70"/>
<rect x="574.10" y="608.80" width="1" height="1" fill="#222"/>
<path d="M471.20,588.20 C471.70,589.88 473.57,595.35 474.20,598.30 C474.83,601.25 475.63,602.53 475.00,605.90 C474.37,609.27 472.42,614.28 470.40,618.50 C468.38,622.72 465.42,626.57 462.90,631.20 C460.38,635.83 457.62,641.67 455.30,646.30 C452.98,650.93 450.35,655.22 449.00,659.00 C447.65,662.78 447.20,665.63 447.20,669.00 C447.20,672.37 447.98,675.38 449.00,679.20 C450.02,683.02 452.58,689.78 453.30,691.90 L465.40,691.90 C464.63,690.20 461.87,685.08 460.80,681.70 C459.73,678.32 459.00,674.97 459.00,671.60 C459.00,668.23 459.52,665.28 460.80,661.50 C462.08,657.72 464.47,653.53 466.70,648.90 C468.93,644.27 471.68,638.35 474.20,633.70 C476.72,629.05 479.82,625.42 481.80,621.00 C483.78,616.58 485.55,610.98 486.10,607.20 C486.65,603.42 485.82,601.47 485.10,598.30 C484.38,595.13 482.35,589.88 481.80,588.20 Z" fill="#fff" stroke="none"/>
<path d="M471.20,588.20 C471.70,589.88 473.57,595.35 474.20,598.30 C474.83,601.25 475.63,602.53 475.00,605.90 C474.37,609.27 472.42,614.28 470.40,618.50 C468.38,622.72 465.42,626.57 462.90,631.20 C460.38,635.83 457.62,641.67 455.30,646.30 C452.98,650.93 450.35,655.22 449.00,659.00 C447.65,662.78 447.20,665.63 447.20,669.00 C447.20,672.37 447.98,675.38 449.00,679.20 C450.02,683.02 452.58,689.78 453.30,691.90" fill="none" stroke="#000" stroke-width="1.10" stroke-dasharray="15 2.6 1.5 2.6 1.5 2.6" />
<path d="M481.80,588.20 C482.35,589.88 484.38,595.13 485.10,598.30 C485.82,601.47 486.65,603.42 486.10,607.20 C485.55,610.98 483.78,616.58 481.80,621.00 C479.82,625.42 476.72,629.05 474.20,633.70 C471.68,638.35 468.93,644.27 466.70,648.90 C464.47,653.53 462.08,657.72 460.80,661.50 C459.52,665.28 459.00,668.23 459.00,671.60 C459.00,674.97 459.73,678.32 460.80,681.70 C461.87,685.08 464.63,690.20 465.40,691.90" fill="none" stroke="#000" stroke-width="1.10" stroke-dasharray="15 2.6 1.5 2.6 1.5 2.6" />
<line x1="348.60" y1="540.50" x2="348.60" y2="600.50" stroke="#555" stroke-width="0.50"/>
<line x1="424.50" y1="565.00" x2="424.50" y2="600.50" stroke="#555" stroke-width="0.50"/>
<line x1="574.60" y1="540.50" x2="574.60" y2="600.50" stroke="#555" stroke-width="0.50"/>
<line x1="348.60" y1="544.00" x2="419.00" y2="544.00" stroke="#333" stroke-width="0.60"/>
<line x1="503.00" y1="544.00" x2="574.60" y2="544.00" stroke="#333" stroke-width="0.60"/>
<path d="M348.60,544.00 L355.60,542.85 L355.60,545.15 Z" fill="#000"/>
<path d="M574.60,544.00 L567.60,545.15 L567.60,542.85 Z" fill="#000"/>
<text x="420.70" y="549.20" font-size="14.4" textLength="82.00" lengthAdjust="spacingAndGlyphs" >(N−1)x9.50</text>
<line x1="348.60" y1="568.50" x2="369.50" y2="568.50" stroke="#333" stroke-width="0.60"/>
<line x1="403.50" y1="568.50" x2="424.50" y2="568.50" stroke="#333" stroke-width="0.60"/>
<path d="M348.60,568.50 L355.60,567.35 L355.60,569.65 Z" fill="#000"/>
<path d="M424.50,568.50 L417.50,569.65 L417.50,567.35 Z" fill="#000"/>
<text x="371.40" y="573.30" font-size="14.4" textLength="30.30" lengthAdjust="spacingAndGlyphs" >9.50</text>
<line x1="258.00" y1="588.20" x2="304.00" y2="588.20" stroke="#555" stroke-width="0.50"/>
<line x1="258.00" y1="691.90" x2="304.00" y2="691.90" stroke="#555" stroke-width="0.50"/>
<line x1="263.10" y1="588.20" x2="263.10" y2="623.50" stroke="#333" stroke-width="0.60"/>
<line x1="263.10" y1="654.00" x2="263.10" y2="691.90" stroke="#333" stroke-width="0.60"/>
<path d="M263.10,588.20 L264.25,595.20 L261.95,595.20 Z" fill="#000"/>
<path d="M263.10,691.90 L261.95,684.90 L264.25,684.90 Z" fill="#000"/>
<text x="268.20" y="652.40" font-size="14.4" textLength="27.30" lengthAdjust="spacingAndGlyphs" transform="rotate(-90 268.20 652.40)" >13.1</text>
<line x1="284.00" y1="609.30" x2="339.50" y2="609.30" stroke="#555" stroke-width="0.50"/>
<line x1="287.20" y1="588.20" x2="287.20" y2="617.50" stroke="#333" stroke-width="0.60"/>
<path d="M287.20,588.20 L288.35,595.20 L286.05,595.20 Z" fill="#000"/>
<path d="M287.20,609.30 L286.05,602.30 L288.35,602.30 Z" fill="#000"/>
<text x="292.20" y="649.20" font-size="14.4" textLength="30.50" lengthAdjust="spacingAndGlyphs" transform="rotate(-90 292.20 649.20)" >2.70</text>
<line x1="583.20" y1="610.30" x2="629.50" y2="615.60" stroke="#333" stroke-width="0.60"/>
<path d="M583.20,610.30 L590.29,609.95 L590.02,612.24 Z" fill="#000"/>
<text x="631.00" y="621.60" font-size="14.4" textLength="29.00" lengthAdjust="spacingAndGlyphs" >ø2.1</text>
<text x="390.30" y="727.40" font-size="15.4" textLength="104.50" lengthAdjust="spacingAndGlyphs" >P.C.B.LAYOUT</text>
<path d="M671.30,369.80 V283.10 Q671.30,274.60 679.80,274.60 H767.10 Q775.60,274.60 775.60,283.10 V369.80" fill="none" stroke="#000" stroke-width="1.10" />
<path d="M675.1,319.2 H682.7 L685.9,322.5 V361.6 H740.6 L748.6,367.2 L749.5,369.8 H671.3 V350.6 L675.1,343.6 Z" fill="url(#hat)" stroke="#000" stroke-width="1.1" stroke-linejoin="round"/>
<path d="M760.7,322.5 L764.3,319.2 H771 V343.6 L775.6,350.6 V369.8 H759.2 L760.7,366 Z" fill="url(#hat)" stroke="#000" stroke-width="1.1" stroke-linejoin="round"/>
<line x1="683.30" y1="368.70" x2="763.00" y2="368.70" stroke="#000" stroke-width="1.30"/>
<path d="M699.3,305.6 C699.3,298.5 703,290.4 712,290.4 H735 C744,290.4 747.6,298.5 747.6,305.6 Z" fill="none" stroke="#000" stroke-width="1.10" />
<line x1="719.60" y1="290.60" x2="719.60" y2="298.80" stroke="#000" stroke-width="1.00"/>
<line x1="727.30" y1="290.60" x2="727.30" y2="298.80" stroke="#000" stroke-width="1.00"/>
<line x1="700.80" y1="298.80" x2="746.10" y2="298.80" stroke="#000" stroke-width="0.90"/>
<rect x="692.60" y="305.70" width="62.40" height="10.10" fill="none" stroke="#000" stroke-width="1.10"/>
<path d="M686.75,357.5 V322.5 Q686.75,315.8 693.5,315.8 H752 Q758.6,315.8 758.6,322.5 V401.2 H749.5 V325.5 Q749.5,323.1 747.1,323.1 H696 Q693.6,323.1 693.6,325.5 V355.6 H691 V357.5 Z" fill="none" stroke="#000" stroke-width="1.10" />
<line x1="749.50" y1="395.10" x2="758.60" y2="395.10" stroke="#000" stroke-width="1.00"/>
<path d="M703.6,323.1 Q706.2,323.4 706.2,326.5 V333.1 H741.4 V326.5 Q741.4,323.4 744,323.1" fill="none" stroke="#000" stroke-width="1.00" />
<path d="M712.30,333.10 L709.30,334.73 L712.30,336.36 L709.30,337.99 L712.30,339.62 L709.30,341.26 L712.30,342.89 L709.30,344.52 L712.30,346.15 L709.30,347.78 L712.30,349.41 L709.30,351.04 L712.30,352.68 L709.30,354.31 L712.30,355.94 L709.30,357.57 L712.30,359.20" fill="none" stroke="#000" stroke-width="1.00" stroke-linejoin="round"/>
<path d="M734.70,333.10 L737.70,334.73 L734.70,336.36 L737.70,337.99 L734.70,339.62 L737.70,341.26 L734.70,342.89 L737.70,344.52 L734.70,346.15 L737.70,347.78 L734.70,349.41 L737.70,351.04 L734.70,352.68 L737.70,354.31 L734.70,355.94 L737.70,357.57 L734.70,359.20" fill="none" stroke="#000" stroke-width="1.00" stroke-linejoin="round"/>
<line x1="709.30" y1="359.30" x2="737.70" y2="359.30" stroke="#666" stroke-width="1.60"/>
<line x1="686.75" y1="359.40" x2="709.30" y2="359.40" stroke="#000" stroke-width="0.90"/>
<line x1="737.70" y1="359.40" x2="749.50" y2="359.40" stroke="#000" stroke-width="0.90"/>
<line x1="746.80" y1="281.40" x2="791.72" y2="259.73" stroke="#222" stroke-width="0.70"/>
<circle cx="746.80" cy="281.40" r="2.10" fill="#222" stroke="#000" stroke-width="0.00"/>
<circle cx="798.20" cy="256.60" r="7.20" fill="none" stroke="#333" stroke-width="0.80"/>
<text x="798.20" y="260.00" font-size="9.5" text-anchor="middle" fill="#333" >1</text>
<line x1="731.00" y1="337.90" x2="791.68" y2="309.46" stroke="#222" stroke-width="0.70"/>
<circle cx="731.00" cy="337.90" r="2.10" fill="#222" stroke="#000" stroke-width="0.00"/>
<circle cx="798.20" cy="306.40" r="7.20" fill="none" stroke="#333" stroke-width="0.80"/>
<text x="798.20" y="309.80" font-size="9.5" text-anchor="middle" fill="#333" >2</text>
<line x1="753.90" y1="365.40" x2="791.50" y2="350.63" stroke="#222" stroke-width="0.70"/>
<circle cx="753.90" cy="365.40" r="2.10" fill="#222" stroke="#000" stroke-width="0.00"/>
<circle cx="798.20" cy="348.00" r="7.20" fill="none" stroke="#333" stroke-width="0.80"/>
<text x="798.20" y="351.40" font-size="9.5" text-anchor="middle" fill="#333" >3</text>
<circle cx="852.80" cy="183.80" r="2.10" fill="#111" stroke="#000" stroke-width="0.00"/>
<text class="cf" x="861.50" y="189.60" font-size="16.25">材质及电镀</text>
<text class="cf" y="212.10" font-size="16.25"><tspan x="858.00">①塑</tspan><tspan x="898.62">件</tspan></text>
<text transform="translate(914.88 212.10) scale(0.7862 1)" font-family="Liberation Mono" font-size="17.23">:PA66, UL94V-0</text>
<text class="cf" y="233.50" font-size="16.25"><tspan x="858.00">②螺</tspan><tspan x="898.62">丝</tspan></text>
<text transform="translate(914.88 233.50) scale(0.7862 1)" font-family="Liberation Mono" font-size="17.23">:M3,</text>
<text class="cf" x="947.38" y="233.50" font-size="16.25">钢</text>
<text transform="translate(963.62 233.50) scale(0.7862 1)" font-family="Liberation Mono" font-size="17.23">,</text>
<text class="cf" x="971.75" y="233.50" font-size="16.25">镀镍</text>
<text class="cf" y="254.90" font-size="16.25"><tspan x="858.00">③焊</tspan><tspan x="898.62">针</tspan></text>
<text transform="translate(914.88 254.90) scale(0.7862 1)" font-family="Liberation Mono" font-size="17.23">:</text>
<text class="cf" x="923.00" y="254.90" font-size="16.25">黄铜</text>
<text transform="translate(955.50 254.90) scale(0.7862 1)" font-family="Liberation Mono" font-size="17.23">,1.0t</text>
<text class="cf" x="1004.25" y="254.90" font-size="16.25">镀锡</text>
<circle cx="852.80" cy="291.80" r="2.10" fill="#111" stroke="#000" stroke-width="0.00"/>
<text class="cf" x="861.50" y="297.60" font-size="16.25">电气性能</text>
<text transform="translate(1007.80 297.60) scale(0.7862 1)" font-family="Liberation Mono" font-size="17.23">IEC</text>
<text class="cf" x="867.00" y="318.50" font-size="16.25">额定电压</text>
<text transform="translate(932.00 318.50) scale(0.7862 1)" font-family="Liberation Mono" font-size="17.23">: 300V</text>
<text transform="translate(1006.60 318.50) scale(0.7862 1)" font-family="Liberation Mono" font-size="17.23">750V</text>
<text class="cf" x="867.00" y="341.00" font-size="16.25">额定电流</text>
<text transform="translate(932.00 341.00) scale(0.7862 1)" font-family="Liberation Mono" font-size="17.23">: 25A</text>
<text transform="translate(1006.40 341.00) scale(0.7862 1)" font-family="Liberation Mono" font-size="17.23">32A</text>
<text class="cf" x="867.00" y="362.40" font-size="16.25">绝缘电阻</text>
<text transform="translate(932.00 362.40) scale(0.7862 1)" font-family="Liberation Mono" font-size="17.23">: 500M</text>
<text x="981.05" y="362.40" font-family="Liberation Serif" font-size="15.92">Ω</text>
<text transform="translate(993.10 362.40) scale(0.7862 1)" font-family="Liberation Mono" font-size="17.23">/DC500V</text>
<text class="cf" x="867.00" y="384.10" font-size="16.25">耐电压</text>
<text transform="translate(915.75 384.10) scale(0.7862 1)" font-family="Liberation Mono" font-size="17.23">: AC2000V/Min</text>
<circle cx="852.80" cy="419.60" r="2.10" fill="#111" stroke="#000" stroke-width="0.00"/>
<text class="cf" x="861.50" y="425.40" font-size="16.25">机械性能</text>
<text class="cf" x="867.30" y="447.40" font-size="16.25">温度范围</text>
<text transform="translate(932.30 447.40) scale(0.7862 1)" font-family="Liberation Mono" font-size="17.23">: -40</text>
<text class="cf" y="447.40" font-size="16.25"><tspan x="972.92">℃</tspan><tspan x="989.17">～</tspan></text>
<text transform="translate(1005.42 447.40) scale(0.7862 1)" font-family="Liberation Mono" font-size="17.23">+105</text>
<text class="cf" x="1037.92" y="447.40" font-size="16.25">℃</text>
<text class="cf" x="867.30" y="468.60" font-size="16.25">适用线径</text>
<text transform="translate(932.30 468.60) scale(0.7862 1)" font-family="Liberation Mono" font-size="17.23">: 22-12AWG 4.0mm²</text>
<text class="cf" x="867.30" y="491.10" font-size="16.25">最大扭矩值</text>
<text transform="translate(948.55 491.10) scale(0.7862 1)" font-family="Liberation Mono" font-size="17.23">: 0.5N.m 5.1kgf.cm</text>
<circle cx="852.80" cy="526.60" r="2.10" fill="#111" stroke="#000" stroke-width="0.00"/>
<text class="cf" x="861.25" y="532.40" font-size="16.25">符合</text>
<text transform="translate(893.75 532.40) scale(0.7862 1)" font-family="Liberation Mono" font-size="17.23">RoHS</text>
<text class="cf" x="926.25" y="532.40" font-size="16.25">环保要求</text>
<text class="cs" x="825.30" y="559.30" font-size="16.4" font-weight="500" letter-spacing="0.15">订购方式</text>
<text transform="translate(841.80 578.6) scale(0.8255 1)" font-family="Liberation Mono" font-size="17.10">KF-9500-9.5-XXP-1 X-XXXXX</text>
<line x1="841.80" y1="581.70" x2="901.09" y2="581.70" stroke="#000" stroke-width="1.10"/>
<line x1="909.56" y1="581.70" x2="934.97" y2="581.70" stroke="#000" stroke-width="1.10"/>
<line x1="943.44" y1="581.70" x2="968.85" y2="581.70" stroke="#000" stroke-width="1.10"/>
<line x1="977.32" y1="581.70" x2="985.79" y2="581.70" stroke="#000" stroke-width="1.10"/>
<line x1="994.26" y1="581.70" x2="1002.73" y2="581.70" stroke="#000" stroke-width="1.10"/>
<line x1="1011.20" y1="581.70" x2="1053.55" y2="581.70" stroke="#000" stroke-width="1.10"/>
<line x1="869.30" y1="584.50" x2="869.30" y2="630.00" stroke="#000" stroke-width="1.10"/>
<path d="M869.30,637.70 l-3.5,-7.6 h7 Z" fill="#000"/>
<line x1="920.00" y1="584.50" x2="920.00" y2="630.00" stroke="#000" stroke-width="1.10"/>
<path d="M920.00,637.70 l-3.5,-7.6 h7 Z" fill="#000"/>
<path d="M956.5,584.5 V679.4 H971" fill="none" stroke="#000" stroke-width="1.10" />
<path d="M978.60,679.40 l-7.4,-3.4 v6.8 Z" fill="#000"/>
<path d="M978.3,584.5 V642.3 H984" fill="none" stroke="#000" stroke-width="1.10" />
<path d="M992.00,642.30 l-7.4,-3.4 v6.8 Z" fill="#000"/>
<path d="M997.9,584.5 V621 H1047" fill="none" stroke="#000" stroke-width="1.10" />
<path d="M1054.80,621.00 l-7.4,-3.4 v6.8 Z" fill="#000"/>
<path d="M1031.4,584.5 V600 H1066" fill="none" stroke="#000" stroke-width="1.10" />
<path d="M1072.80,600.00 l-7.4,-3.4 v6.8 Z" fill="#000"/>
<text class="cs" x="845.00" y="651.90" font-size="12.1" font-weight="500">产品型号</text>
<text class="cs" x="902.50" y="651.90" font-size="12.1" font-weight="500">间距</text>
<text transform="translate(926.70 651.90) scale(0.7862 1)" font-family="Liberation Mono" font-size="12.83">:mm</text>
<text transform="translate(993.50 646.10) scale(0.7862 1)" font-family="Liberation Mono" font-size="12.83">1:</text>
<text class="cs" x="1005.60" y="646.10" font-size="12.1">单间距</text>
<text transform="translate(993.50 661.50) scale(0.7862 1)" font-family="Liberation Mono" font-size="12.83">2:</text>
<text class="cs" x="1005.60" y="661.50" font-size="12.1">双间距</text>
<text class="cs" x="981.30" y="684.80" font-size="12.1">极数</text>
<text transform="translate(1005.50 684.80) scale(0.7862 1)" font-family="Liberation Mono" font-size="12.83">:2~24P</text>
<text class="cs" x="1073.20" y="604.30" font-size="12.1" font-weight="500">客户要求</text>
<text class="cs" x="1056.50" y="625.10" font-size="12.1">颜色</text>
<text transform="translate(1080.70 625.10) scale(0.7862 1)" font-family="Liberation Mono" font-size="12.83">:</text>
<text transform="translate(1056.50 640.80) scale(0.7862 1)" font-family="Liberation Mono" font-size="12.83">G:</text>
<text class="cs" x="1068.60" y="640.80" font-size="12.1">绿色</text>
<text transform="translate(1104.90 640.80) scale(0.7862 1)" font-family="Liberation Mono" font-size="12.83">R:</text>
<text class="cs" x="1117.00" y="640.80" font-size="12.1">红色</text>
<text transform="translate(1056.50 656.30) scale(0.7862 1)" font-family="Liberation Mono" font-size="12.83">K:</text>
<text class="cs" x="1068.60" y="656.30" font-size="12.1">黑色</text>
<text transform="translate(1104.90 656.30) scale(0.7862 1)" font-family="Liberation Mono" font-size="12.83">W:</text>
<text class="cs" x="1117.00" y="656.30" font-size="12.1">白色</text>
<text transform="translate(1056.50 672.30) scale(0.7862 1)" font-family="Liberation Mono" font-size="12.83">O:</text>
<text class="cs" x="1068.60" y="672.30" font-size="12.1">橙色</text>
<text transform="translate(1104.90 672.30) scale(0.7862 1)" font-family="Liberation Mono" font-size="12.83">B:</text>
<text class="cs" x="1117.00" y="672.30" font-size="12.1">蓝色</text>
<text transform="translate(1056.50 688.30) scale(0.7862 1)" font-family="Liberation Mono" font-size="12.83">GR:</text>
<text class="cs" x="1074.65" y="688.30" font-size="12.1">灰色</text>
<line x1="496.50" y1="718.80" x2="1172.00" y2="718.80" stroke="#000" stroke-width="1.15"/>
<line x1="496.50" y1="718.80" x2="496.50" y2="840.00" stroke="#000" stroke-width="1.15"/>
<line x1="496.50" y1="736.20" x2="746.50" y2="736.20" stroke="#000" stroke-width="1.15"/>
<line x1="496.50" y1="770.90" x2="746.50" y2="770.90" stroke="#000" stroke-width="1.15"/>
<line x1="496.50" y1="788.80" x2="746.50" y2="788.80" stroke="#000" stroke-width="1.15"/>
<line x1="522.40" y1="736.20" x2="522.40" y2="788.80" stroke="#000" stroke-width="1.15"/>
<line x1="548.70" y1="736.20" x2="548.70" y2="788.80" stroke="#000" stroke-width="1.15"/>
<line x1="574.80" y1="736.20" x2="574.80" y2="788.80" stroke="#000" stroke-width="1.15"/>
<line x1="600.90" y1="736.20" x2="600.90" y2="788.80" stroke="#000" stroke-width="1.15"/>
<line x1="627.30" y1="736.20" x2="627.30" y2="788.80" stroke="#000" stroke-width="1.15"/>
<line x1="653.60" y1="736.20" x2="653.60" y2="788.80" stroke="#000" stroke-width="1.15"/>
<line x1="679.80" y1="736.20" x2="679.80" y2="788.80" stroke="#000" stroke-width="1.15"/>
<line x1="574.80" y1="718.80" x2="574.80" y2="736.20" stroke="#000" stroke-width="1.15"/>
<line x1="706.40" y1="718.80" x2="706.40" y2="788.80" stroke="#000" stroke-width="1.15"/>
<line x1="746.50" y1="718.80" x2="746.50" y2="850.50" stroke="#000" stroke-width="1.15"/>
<line x1="719.40" y1="718.80" x2="719.40" y2="736.20" stroke="#000" stroke-width="1.15"/>
<line x1="733.20" y1="718.80" x2="733.20" y2="736.20" stroke="#000" stroke-width="1.15"/>
<line x1="706.40" y1="753.70" x2="746.50" y2="753.70" stroke="#000" stroke-width="1.15"/>
<text class="cs" x="509.60" y="731.20" font-size="8.3" font-weight="bold" letter-spacing="0.22">间距尺寸公差</text>
<text class="cs" x="605.60" y="731.20" font-size="8.3" font-weight="bold" letter-spacing="0.34">其它未注尺寸公差</text>
<text x="509.45" y="747.10" font-size="9.0" text-anchor="middle" textLength="11.60" lengthAdjust="spacingAndGlyphs" >&gt;0</text>
<path d="M506.15,755.2 q1.6,-1.7 3.3,-0.4 t3.3,-0.4" fill="none" stroke="#222" stroke-width="0.80" />
<text x="509.45" y="767.10" font-size="9.0" text-anchor="middle" textLength="5.66" lengthAdjust="spacingAndGlyphs" >6</text>
<text x="509.65" y="783.00" font-size="8.8" text-anchor="middle" textLength="22.40" lengthAdjust="spacingAndGlyphs" >±0.15</text>
<text x="535.55" y="747.10" font-size="9.0" text-anchor="middle" textLength="11.60" lengthAdjust="spacingAndGlyphs" >&gt;6</text>
<path d="M532.25,755.2 q1.6,-1.7 3.3,-0.4 t3.3,-0.4" fill="none" stroke="#222" stroke-width="0.80" />
<text x="535.55" y="767.10" font-size="9.0" text-anchor="middle" textLength="11.31" lengthAdjust="spacingAndGlyphs" >10</text>
<text x="535.75" y="783.00" font-size="8.8" text-anchor="middle" textLength="22.40" lengthAdjust="spacingAndGlyphs" >±0.20</text>
<text x="561.75" y="747.10" font-size="9.0" text-anchor="middle" textLength="17.25" lengthAdjust="spacingAndGlyphs" >&gt;10</text>
<path d="M558.45,755.2 q1.6,-1.7 3.3,-0.4 t3.3,-0.4" fill="none" stroke="#222" stroke-width="0.80" />
<text x="561.75" y="767.10" font-size="9.0" text-anchor="middle" textLength="11.31" lengthAdjust="spacingAndGlyphs" >24</text>
<text x="561.95" y="783.00" font-size="8.8" text-anchor="middle" textLength="22.40" lengthAdjust="spacingAndGlyphs" >±0.30</text>
<text x="587.85" y="747.10" font-size="9.0" text-anchor="middle" textLength="11.60" lengthAdjust="spacingAndGlyphs" >&gt;0</text>
<path d="M584.55,755.2 q1.6,-1.7 3.3,-0.4 t3.3,-0.4" fill="none" stroke="#222" stroke-width="0.80" />
<text x="587.85" y="767.10" font-size="9.0" text-anchor="middle" textLength="11.31" lengthAdjust="spacingAndGlyphs" >30</text>
<text x="588.05" y="783.00" font-size="8.8" text-anchor="middle" textLength="22.40" lengthAdjust="spacingAndGlyphs" >±0.30</text>
<text x="614.10" y="747.10" font-size="9.0" text-anchor="middle" textLength="17.25" lengthAdjust="spacingAndGlyphs" >&gt;30</text>
<path d="M610.80,755.2 q1.6,-1.7 3.3,-0.4 t3.3,-0.4" fill="none" stroke="#222" stroke-width="0.80" />
<text x="614.10" y="767.10" font-size="9.0" text-anchor="middle" textLength="11.31" lengthAdjust="spacingAndGlyphs" >60</text>
<text x="614.30" y="783.00" font-size="8.8" text-anchor="middle" textLength="22.40" lengthAdjust="spacingAndGlyphs" >±0.50</text>
<text x="640.45" y="747.10" font-size="9.0" text-anchor="middle" textLength="17.25" lengthAdjust="spacingAndGlyphs" >&gt;60</text>
<path d="M637.15,755.2 q1.6,-1.7 3.3,-0.4 t3.3,-0.4" fill="none" stroke="#222" stroke-width="0.80" />
<text x="640.45" y="767.10" font-size="9.0" text-anchor="middle" textLength="16.97" lengthAdjust="spacingAndGlyphs" >100</text>
<text x="640.65" y="783.00" font-size="8.8" text-anchor="middle" textLength="22.40" lengthAdjust="spacingAndGlyphs" >±0.70</text>
<text x="666.70" y="747.10" font-size="9.0" text-anchor="middle" textLength="22.91" lengthAdjust="spacingAndGlyphs" >&gt;100</text>
<path d="M663.40,755.2 q1.6,-1.7 3.3,-0.4 t3.3,-0.4" fill="none" stroke="#222" stroke-width="0.80" />
<text x="666.70" y="767.10" font-size="9.0" text-anchor="middle" textLength="16.97" lengthAdjust="spacingAndGlyphs" >150</text>
<text x="666.90" y="783.00" font-size="8.8" text-anchor="middle" textLength="22.40" lengthAdjust="spacingAndGlyphs" >±1.00</text>
<text x="693.20" y="756.10" font-size="8.8" text-anchor="middle" textLength="21.40" lengthAdjust="spacingAndGlyphs" >&gt;150</text>
<text x="693.30" y="783.00" font-size="8.8" text-anchor="middle" textLength="22.40" lengthAdjust="spacingAndGlyphs" >±1.30</text>
<text x="726.50" y="747.70" font-size="8.8" text-anchor="middle" textLength="31.60" lengthAdjust="spacingAndGlyphs" >0.1/10</text>
<text x="726.60" y="783.00" font-size="8.8" text-anchor="middle" textLength="14.60" lengthAdjust="spacingAndGlyphs" >±2°</text>
<line x1="709.20" y1="727.70" x2="717.00" y2="727.70" stroke="#000" stroke-width="0.90"/>
<path d="M722.6,730.8 A4.5,5.6 0 0 1 731.2,730.8" fill="none" stroke="#000" stroke-width="0.90" />
<path d="M737.1,724.2 H744.6 L743.2,731.6 H735.7 Z" fill="none" stroke="#000" stroke-width="0.90" />
<path d="M734.3,758.2 L720.2,766.6 H734" fill="none" stroke="#000" stroke-width="0.90" />
<line x1="496.50" y1="805.30" x2="746.50" y2="805.30" stroke="#000" stroke-width="1.15"/>
<line x1="496.50" y1="822.40" x2="746.50" y2="822.40" stroke="#000" stroke-width="1.15"/>
<line x1="569.20" y1="788.80" x2="569.20" y2="840.00" stroke="#000" stroke-width="1.15"/>
<line x1="633.70" y1="805.30" x2="633.70" y2="822.40" stroke="#000" stroke-width="1.15"/>
<line x1="684.10" y1="805.30" x2="684.10" y2="822.40" stroke="#000" stroke-width="1.15"/>
<text class="cs" x="511.40" y="801.60" font-size="10.4" font-weight="bold">图纸类型</text>
<text class="cf" x="585.60" y="801.60" font-size="10.9" fill="#222">客户图纸</text>
<text class="cs" x="522.50" y="818.80" font-size="10.4" font-weight="bold" letter-spacing="-0.5">比例</text>
<text x="601.70" y="818.70" font-size="10.8" text-anchor="middle" textLength="15.40" lengthAdjust="spacingAndGlyphs" >1:1</text>
<text class="cs" x="649.30" y="818.80" font-size="10.2" font-weight="bold" letter-spacing="-0.3">图页</text>
<text x="716.20" y="818.90" font-size="11.4" text-anchor="middle" textLength="20.50" lengthAdjust="spacingAndGlyphs" >1/1</text>
<text class="cs" x="511.40" y="836.00" font-size="10.4" font-weight="bold">图纸编号</text>
<text x="582.70" y="835.40" font-size="11.2" textLength="66.00" lengthAdjust="spacingAndGlyphs" >W12001191</text>
<line x1="746.50" y1="736.30" x2="894.80" y2="736.30" stroke="#000" stroke-width="1.15"/>
<line x1="746.50" y1="753.80" x2="1172.00" y2="753.80" stroke="#000" stroke-width="1.15"/>
<line x1="746.50" y1="770.90" x2="1172.00" y2="770.90" stroke="#000" stroke-width="1.15"/>
<line x1="835.60" y1="718.80" x2="835.60" y2="770.90" stroke="#000" stroke-width="1.15"/>
<line x1="894.80" y1="718.80" x2="894.80" y2="770.90" stroke="#000" stroke-width="1.15"/>
<path d="M932.4,718.8 V733.7 H894.8" fill="none" stroke="#000" stroke-width="1.15" />
<line x1="952.00" y1="753.80" x2="952.00" y2="770.90" stroke="#000" stroke-width="1.15"/>
<text class="cs" x="775.30" y="731.40" font-size="10.5" font-weight="bold">投影法</text>
<text class="cs" x="780.50" y="748.80" font-size="10.4" font-weight="bold">单位</text>
<text class="cs" x="770.40" y="766.80" font-size="10.5" font-weight="bold">纸张尺寸</text>
<text class="cs" x="903.20" y="730.70" font-size="10.3" font-weight="bold">品名</text>
<text class="cs" x="902.00" y="766.80" font-size="10.5" font-weight="bold">产品系列</text>
<circle cx="851.40" cy="726.90" r="6.60" fill="none" stroke="#000" stroke-width="0.90"/>
<circle cx="851.40" cy="726.90" r="3.30" fill="none" stroke="#000" stroke-width="0.90"/>
<line x1="840.20" y1="726.90" x2="887.40" y2="726.90" stroke="#000" stroke-width="0.80"/>
<line x1="851.40" y1="718.90" x2="851.40" y2="735.00" stroke="#000" stroke-width="0.80"/>
<path d="M870.5,723.5 L883.6,720.8 V733 L870.5,730.3 Z" fill="none" stroke="#000" stroke-width="0.90" />
<text x="864.90" y="748.60" font-size="11" text-anchor="middle" textLength="20.20" lengthAdjust="spacingAndGlyphs" >mm</text>
<text x="865.20" y="766.20" font-size="11.6" text-anchor="middle" textLength="12.80" lengthAdjust="spacingAndGlyphs" >A4</text>
<text x="942.40" y="743.20" font-size="21" textLength="190.20" lengthAdjust="spacingAndGlyphs" fill="#999" >KF-9500-9.5-XXP-1X</text>
<text x="963.70" y="767.40" font-size="13.5" textLength="51.80" lengthAdjust="spacingAndGlyphs" fill="#999" >KF-9500</text>
<path d="M758.80,792.50 L827.00,792.50 L824.35,798.80 L756.15,798.80 Z M765.85,798.80 L788.85,798.80 C789.82,801.50 787.13,811.00 781.30,815.60 Q778.79,818.00 774.58,818.50 L757.58,818.50 Z M775.37,800.20 L779.97,800.20 C781.41,802.00 776.82,813.40 772.22,813.40 L769.82,813.40 Z M795.65,798.80 L804.85,798.80 L797.00,817.50 L787.80,817.50 Z M802.25,805.00 L825.35,805.00 L823.46,809.50 L800.36,809.50 Z M806.86,809.50 L815.46,809.50 L812.10,817.50 L803.50,817.50 Z" fill="#0a0a0a" fill-rule="evenodd"/>
<text x="838.60" y="792.40" font-size="12.6" text-anchor="middle" fill="#111" >®</text>
<text class="cf" x="849.00" y="806.80" font-size="28.2" letter-spacing="0.35">慈溪市凯峰电子有限公司</text>
<text x="855.20" y="830.40" font-size="15.8" textLength="297.60" lengthAdjust="spacingAndGlyphs" stroke="#000" stroke-width="0.3">CIXI KAIFENG ELECTRONICS CO.,LTD</text>
</g>
</svg>
</body></html>
